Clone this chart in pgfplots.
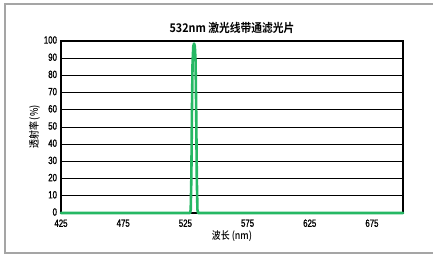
\documentclass[border=0pt]{standalone}
\usepackage{pgfplots}
\pgfplotsset{compat=1.18}
\usepackage{fontspec}
\setmainfont{Liberation Sans}[FakeStretch=0.75,FakeBold=1.2]
\newfontfamily\cjk{Noto Sans CJK SC Medium}[FakeStretch=0.85]
\newfontfamily\cjkb{Noto Sans CJK SC Bold}[FakeStretch=0.9]
\definecolor{lgreen}{RGB}{38,184,100}
\definecolor{frame}{RGB}{165,165,165}
\begin{document}
\begin{tikzpicture}[x=1bp,y=1bp]
\path[use as bounding box] (0,0) rectangle (433,254);
\draw[frame,line width=1.2bp] (433,250) -- (5,250) -- (5,1) -- (433,1);
\begin{axis}[
  at={(61bp,41bp)}, anchor=south west,
  scale only axis, width=342bp, height=172bp,
  xmin=425, xmax=700, ymin=0, ymax=100,
  xtick={425,475,525,575,625,675},
  ytick={0,10,...,100},
  major tick length=0pt,
  ymajorgrids, major grid style={black, line width=0.9bp},
  axis line style={black, line width=1.3bp},
  /pgf/number format/assume math mode=true,
  ticklabel style={font=\fontsize{10.5}{11}\selectfont},
  xticklabel style={yshift=-3bp},
  yticklabel style={xshift=-0.5bp, yshift=1bp},
  clip=false,
  title={\cjkb\fontsize{12}{12}\selectfont 532nm 激光线带通滤光片},
  title style={yshift=-2bp},
  xlabel={\cjk\fontsize{10.5}{11}\selectfont 波长 (nm)},
  ylabel={\cjk\fontsize{10.5}{11}\selectfont 透射率 (\%)},
  xlabel style={yshift=3bp},
  ylabel style={yshift=-3bp},
]
\addplot[lgreen, line width=2.6bp, line join=round, line cap=round] coordinates {
(425,0) (528.8,0) (529.3,2) (529.8,20) (530.3,60) (530.8,88) (531.4,97) (532,98.5) (532.6,97) (533.2,88) (533.7,60) (534.2,20) (534.7,2) (535.2,0) (700,0)
};
\end{axis}
\end{tikzpicture}
\end{document}
